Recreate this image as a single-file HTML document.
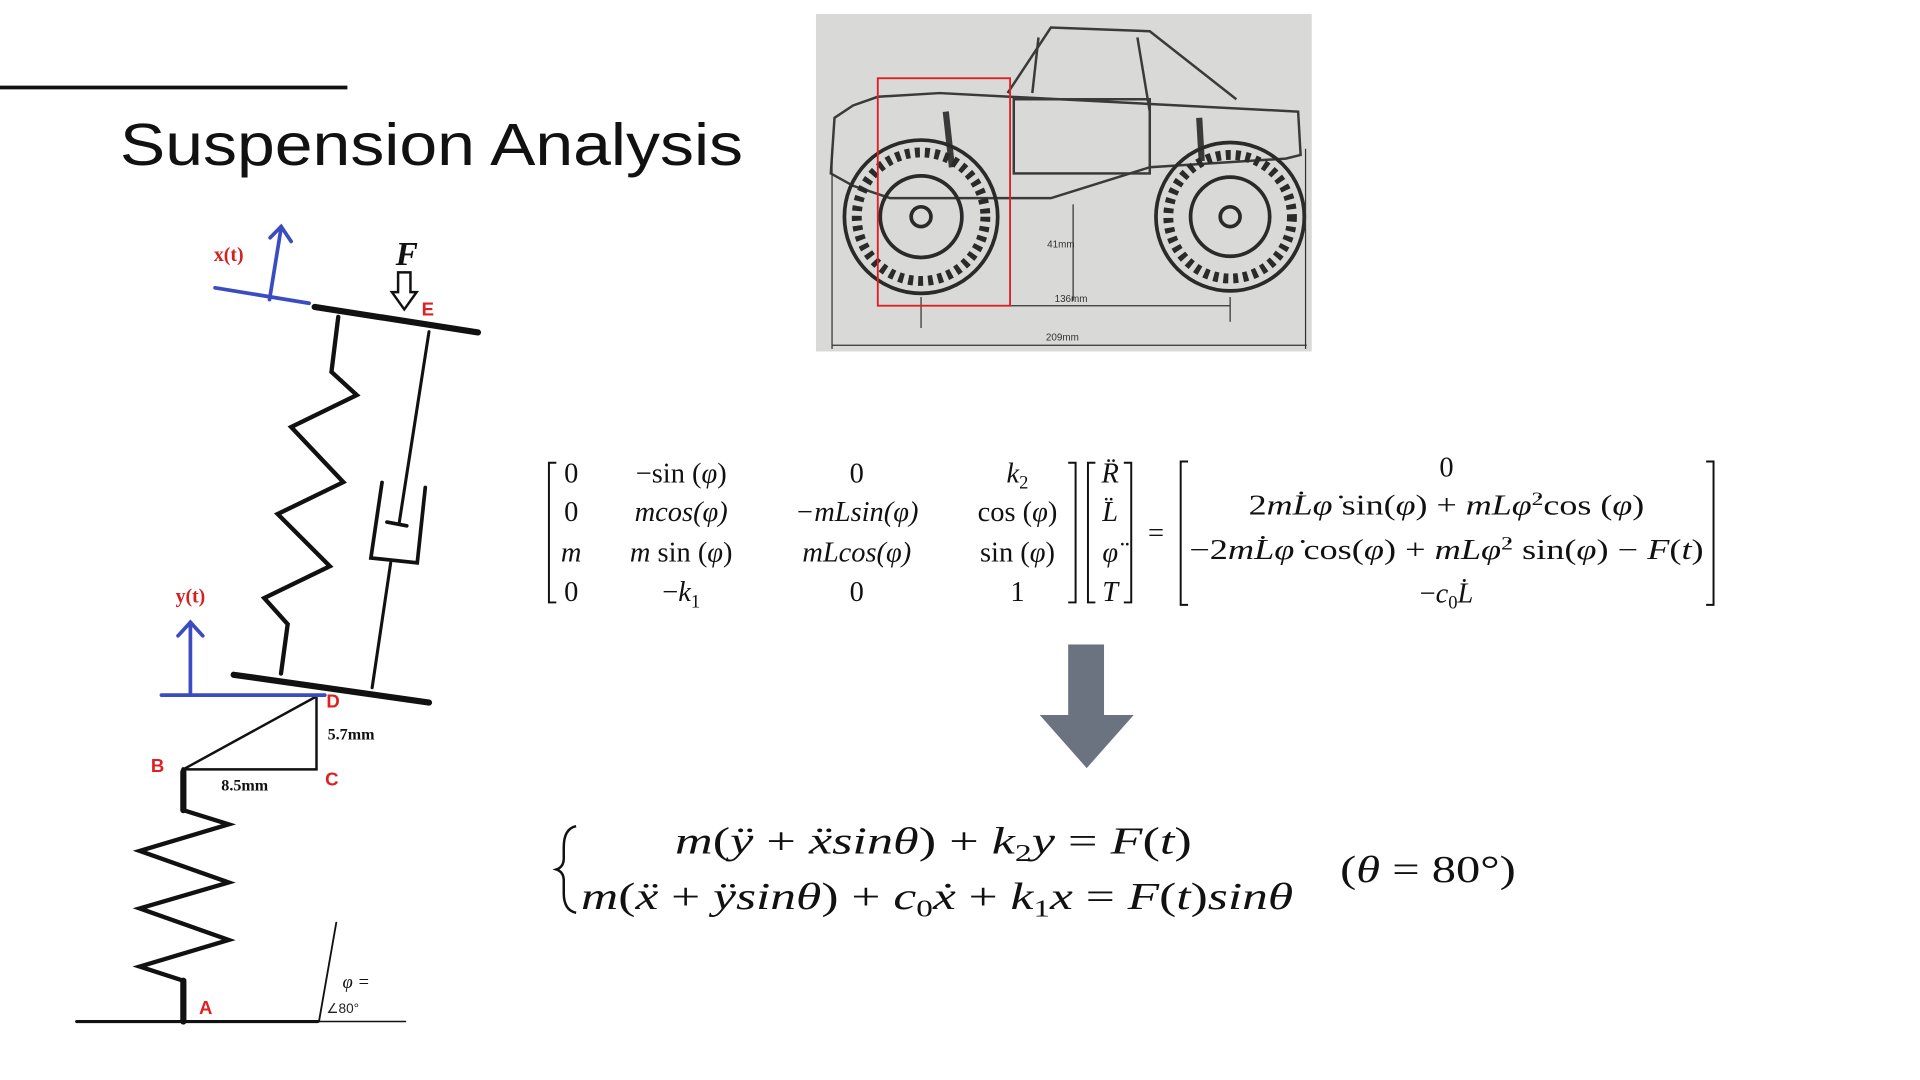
<!DOCTYPE html>
<html><head><meta charset="utf-8"><style>
html,body{margin:0;padding:0;background:#fff;width:1920px;height:1080px;overflow:hidden}
svg{display:block}
</style></head><body>
<svg width="1920" height="1080" viewBox="0 0 1553 873" xmlns="http://www.w3.org/2000/svg">
<rect width="1553" height="873" fill="#fff"/>
<!-- title -->
<line x1="0" y1="70.5" x2="281" y2="70.5" stroke="#111" stroke-width="3"/>
<text x="97" y="133" font-family="Liberation Sans, sans-serif" font-size="48" fill="#111" textLength="504" lengthAdjust="spacingAndGlyphs">Suspension Analysis</text>

<!-- diagram -->
<g fill="none" stroke="#111" stroke-linecap="round" stroke-linejoin="miter">
<line x1="254.5" y1="248" x2="386.6" y2="268.6" stroke-width="5"/>
<polyline points="273.6,256 268.1,300.5 288.6,319.3 235.5,345.1 277.7,389.7 224.6,415.5 266.8,457.7 213.7,483.5 232.7,504.6 227.3,544.5" stroke-width="3.5"/>
<line x1="347" y1="268" x2="323" y2="422" stroke-width="2.5"/>
<line x1="313" y1="422" x2="329" y2="425" stroke-width="3"/>
<polyline points="309,390 300,451 337.5,455 344,394" stroke-width="3"/>
<line x1="316" y1="455" x2="301" y2="556" stroke-width="2.5"/>
<line x1="189" y1="545.5" x2="347" y2="568" stroke-width="5"/>
<polyline points="148.3,622 256,563 256,622 148.3,622" stroke-width="2"/>
<polyline points="148.3,622 148.3,655 185,666.5 113,688 185,713.5 113,734.5 185,760 113,781.5 148.3,793 148.3,826" stroke-width="3.5"/>
<line x1="148.3" y1="624" x2="148.3" y2="655" stroke-width="5"/>
<line x1="148.3" y1="793" x2="148.3" y2="826" stroke-width="5"/>
<line x1="62" y1="826" x2="257" y2="826" stroke-width="2.5"/>
<line x1="258.6" y1="826" x2="328" y2="826" stroke-width="1.2"/>
<line x1="272" y1="746" x2="258" y2="826" stroke-width="1.5"/>
</g>
<g fill="none" stroke="#3b4cc0" stroke-width="3" stroke-linecap="round">
<line x1="174" y1="232.5" x2="250" y2="245"/>
<line x1="218" y1="242" x2="227.4" y2="184"/>
<polyline points="218.5,192 227.4,183 235.5,195"/>
<line x1="130.6" y1="562" x2="262.7" y2="562"/>
<line x1="154" y1="561" x2="154" y2="503"/>
<polyline points="144,514 154,503 164,514"/>
</g>
<!-- hollow arrow F -->
<path d="M322,220 L332,220 L332,236 L337,236 L327,250 L317,236 L322,236 Z" fill="#fff" stroke="#111" stroke-width="2"/>
<g font-family="Liberation Serif, serif" font-weight="bold">
<text x="185" y="211" font-size="16" fill="#d62020" text-anchor="middle">x(t)</text>
<text x="154" y="487" font-size="16" fill="#d62020" text-anchor="middle">y(t)</text>
<text x="329" y="214" font-size="27" font-style="italic" fill="#111" text-anchor="middle">F</text>
<text x="265" y="598" font-size="13" fill="#111">5.7mm</text>
<text x="179" y="639" font-size="13" fill="#111">8.5mm</text>
</g>
<g font-family="Liberation Sans, sans-serif" font-weight="bold" font-size="15" fill="#e02020">
<text x="341" y="255">E</text>
<text x="264" y="572">D</text>
<text x="263" y="635">C</text>
<text x="122" y="624">B</text>
<text x="161" y="820">A</text>
</g>
<text x="277" y="799" font-family="Liberation Serif, serif" font-style="italic" font-size="15" fill="#111">φ =</text>
<text x="264" y="819" font-family="Liberation Sans, sans-serif" font-size="11" fill="#222">∠80°</text>

<!-- photo -->
<rect x="660" y="11" width="401" height="273" fill="#d9d9d7"/>
<g fill="none" stroke="#3a3a3a" stroke-width="2">
<path d="M675,95 L690,85 L710,78 L760,75 L1050,90 L1052,125 L1040,128 L930,135 L850,160 L720,160 L690,150 L672,140 Z"/>
<path d="M815,75 L850,22 L930,25 L1000,80"/>
<path d="M840,30 L835,75 M920,30 L930,90"/>
<rect x="820" y="80" width="110" height="60"/>
<line x1="765" y1="90" x2="770" y2="135" stroke-width="5"/>
<line x1="970" y1="95" x2="972" y2="130" stroke-width="5"/>
</g>
<g fill="none" stroke="#2a2a2a">
<circle cx="745" cy="175" r="62" stroke-width="3"/>
<circle cx="745" cy="175" r="52" stroke-width="8" stroke-dasharray="4 4"/>
<circle cx="745" cy="175" r="33" stroke-width="3"/>
<circle cx="745" cy="175" r="8" stroke-width="3"/>
<circle cx="995" cy="175" r="60" stroke-width="3"/>
<circle cx="995" cy="175" r="50" stroke-width="8" stroke-dasharray="4 4"/>
<circle cx="995" cy="175" r="32" stroke-width="3"/>
<circle cx="995" cy="175" r="8" stroke-width="3"/>
</g>
<g stroke="#333" stroke-width="1">
<line x1="745" y1="240" x2="745" y2="265"/><line x1="995" y1="240" x2="995" y2="260"/>
<line x1="745" y1="247" x2="995" y2="247"/>
<line x1="673" y1="279" x2="1057" y2="279"/>
<line x1="673" y1="120" x2="673" y2="282"/><line x1="1056" y1="120" x2="1056" y2="282"/>
<line x1="868" y1="165" x2="868" y2="243"/>
</g>
<g font-family="Liberation Sans, sans-serif" font-size="8" fill="#333">
<text x="847" y="200">41mm</text><text x="853" y="244">136mm</text><text x="846" y="275">209mm</text>
</g>
<rect x="710" y="63" width="107" height="184" fill="none" stroke="#e02020" stroke-width="1.5"/>

<!-- matrix -->
<g fill="none" stroke="#111" stroke-width="1.6">
<polyline points="450,374 444,374 444,487 450,487"/>
<polyline points="864,374 870,374 870,487 864,487"/>
<polyline points="886,374 880,374 880,487 886,487"/>
<polyline points="909,374 915,374 915,487 909,487"/>
<polyline points="961,373 955,373 955,489 961,489"/>
<polyline points="1380,373 1386,373 1386,489 1380,489"/>
</g>
<g font-family="Liberation Serif, serif" font-size="23" fill="#111" text-anchor="middle">
<text x="462" y="390">0</text><text x="551" y="390">−sin (<tspan font-style="italic">φ</tspan>)</text><text x="693" y="390">0</text><text x="823" y="390"><tspan font-style="italic">k</tspan><tspan font-size="15" dy="5">2</tspan></text>
<text x="462" y="421">0</text><text x="551" y="421" font-style="italic">mcos(φ)</text><text x="693" y="421" font-style="italic">−mLsin(φ)</text><text x="823" y="421">cos (<tspan font-style="italic">φ</tspan>)</text>
<text x="462" y="454" font-style="italic">m</text><text x="551" y="454"><tspan font-style="italic">m</tspan> sin (<tspan font-style="italic">φ</tspan>)</text><text x="693" y="454" font-style="italic">mLcos(φ)</text><text x="823" y="454">sin (<tspan font-style="italic">φ</tspan>)</text>
<text x="462" y="486">0</text><text x="551" y="486">−<tspan font-style="italic">k</tspan><tspan font-size="15" dy="5">1</tspan></text><text x="693" y="486">0</text><text x="823" y="486">1</text>
<g font-style="italic"><text x="898" y="390">R̈</text><text x="898" y="421">L̈</text><text x="898" y="454">φ̈</text><text x="898" y="486">T</text></g>
<text x="935" y="438">=</text>
<text x="1170" y="385">0</text>
<text x="1170" y="416" textLength="320" lengthAdjust="spacingAndGlyphs">2<tspan font-style="italic">mL̇φ̇</tspan> sin(<tspan font-style="italic">φ</tspan>) + <tspan font-style="italic">mLφ̇</tspan><tspan font-size="15" dy="-8">2</tspan><tspan dy="8">cos (</tspan><tspan font-style="italic">φ</tspan>)</text>
<text x="1170" y="452" textLength="416" lengthAdjust="spacingAndGlyphs">−2<tspan font-style="italic">mL̇φ̇</tspan> cos(<tspan font-style="italic">φ</tspan>) + <tspan font-style="italic">mLφ̇</tspan><tspan font-size="15" dy="-8">2</tspan><tspan dy="8"> sin(</tspan><tspan font-style="italic">φ</tspan>) − <tspan font-style="italic">F</tspan>(<tspan font-style="italic">t</tspan>)</text>
<text x="1170" y="487">−<tspan font-style="italic">c</tspan><tspan font-size="15" dy="5">0</tspan><tspan dy="-5" font-style="italic">L̇</tspan></text>
</g>

<!-- arrow -->
<rect x="864" y="521" width="29" height="58" fill="#6b7381"/>
<polygon points="841,578 917,578 879,621" fill="#6b7381"/>

<!-- final equations -->
<path d="M466,668 Q456,670 456,685 L456,694 Q456,701 450,703 Q456,705 456,712 L456,722 Q456,736 466,738" fill="none" stroke="#111" stroke-width="2"/>
<g font-family="Liberation Serif, serif" font-size="31" fill="#111">
<text x="755" y="690" text-anchor="middle" textLength="418" lengthAdjust="spacingAndGlyphs"><tspan font-style="italic">m</tspan>(<tspan font-style="italic">ÿ</tspan> + <tspan font-style="italic">ẍsinθ</tspan>) + <tspan font-style="italic">k</tspan><tspan font-size="20" dy="6">2</tspan><tspan dy="-6" font-style="italic">y</tspan> = <tspan font-style="italic">F</tspan>(<tspan font-style="italic">t</tspan>)</text>
<text x="470" y="735" textLength="576" lengthAdjust="spacingAndGlyphs"><tspan font-style="italic">m</tspan>(<tspan font-style="italic">ẍ</tspan> + <tspan font-style="italic">ÿsinθ</tspan>) + <tspan font-style="italic">c</tspan><tspan font-size="20" dy="6">0</tspan><tspan dy="-6" font-style="italic">ẋ</tspan> + <tspan font-style="italic">k</tspan><tspan font-size="20" dy="6">1</tspan><tspan dy="-6" font-style="italic">x</tspan> = <tspan font-style="italic">F</tspan>(<tspan font-style="italic">t</tspan>)<tspan font-style="italic">sinθ</tspan></text>
<text x="1084" y="713" textLength="142" lengthAdjust="spacingAndGlyphs">(<tspan font-style="italic">θ</tspan> = 80°)</text>
</g>
</svg>
</body></html>
